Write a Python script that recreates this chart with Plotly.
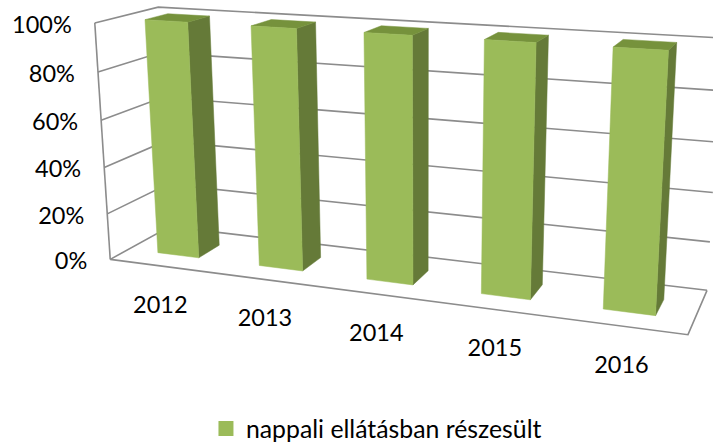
import numpy as np
import plotly.graph_objects as go

# --- data ---
years = ["2012", "2013", "2014", "2015", "2016"]
shares = [100, 100, 100, 100, 100]
value_ticks = [0, 20, 40, 60, 80, 100]
series_name = "nappali ellátásban részesült"

# --- style ---
FRONT = "#9BBB59"
SIDE = "#657A38"
TOP = "#76923C"
GRID = "#8C8C8C"
FONT = "Lato, Carlito, sans-serif"
W, H = 713, 444

# --- 3D view: (category, value %, depth) -> page position, calibrated on box corners ---
box = [
    ((0, 0, 0), (110, 259)), ((5, 0, 0), (688, 335)),
    ((0, 0, 1), (170, 227)), ((5, 0, 1), (707, 290)),
    ((0, 100, 1), (158, 7)), ((5, 100, 1), (722, 38)),
    ((0, 100, 0), (95, 23)),
]
rows = []
for (a, b, c), (u, v) in box:
    p = [a, b / 100, c, 1]
    rows.append(p + [0, 0, 0, 0] + [-u * q for q in p])
    rows.append([0, 0, 0, 0] + p + [-v * q for q in p])
M = np.linalg.svd(np.array(rows, float))[2][-1].reshape(3, 4)


def proj(cat, val, depth):
    h = M @ np.array([cat, val / 100, depth, 1.0])
    return h[0] / h[2], h[1] / h[2]


def path(points):
    xy = [proj(*p) for p in points]
    xy.append(xy[0])
    return [q[0] for q in xy] + [None], [q[1] for q in xy] + [None]


fig = go.Figure()

# walls, floor and gridlines
gx, gy = [], []
for t in value_ticks:
    pts = [proj(0, t, 0), proj(0, t, 1), proj(5, t, 1)]
    gx += [p[0] for p in pts] + [None]
    gy += [p[1] for p in pts] + [None]
for pts in ([proj(0, 0, 0), proj(0, 100, 0)],
            [proj(0, 0, 0), proj(5, 0, 0), proj(5, 0, 1)]):
    gx += [p[0] for p in pts] + [None]
    gy += [p[1] for p in pts] + [None]
fig.add_trace(go.Scatter(x=gx, y=gy, mode="lines", line=dict(color=GRID, width=1.6),
                         hoverinfo="skip", showlegend=False))

# bars
BAR_L, BAR_R, Z0, Z1 = 0.295, 0.705, 0.30, 0.67
faces = {"front": ([], []), "side": ([], []), "top": ([], [])}
for i, v in enumerate(shares):
    l, r = i + BAR_L, i + BAR_R
    for name, poly in (
        ("front", [(l, 0, Z0), (r, 0, Z0), (r, v, Z0), (l, v, Z0)]),
        ("side", [(r, 0, Z0), (r, 0, Z1), (r, v, Z1), (r, v, Z0)]),
        ("top", [(l, v, Z0), (r, v, Z0), (r, v, Z1), (l, v, Z1)]),
    ):
        a, b = path(poly)
        faces[name][0].extend(a)
        faces[name][1].extend(b)
for name, col in (("side", SIDE), ("top", TOP), ("front", FRONT)):
    fig.add_trace(go.Scatter(x=faces[name][0], y=faces[name][1], mode="lines", fill="toself",
                             fillcolor=col, line=dict(color=col, width=0.5),
                             hoverinfo="skip", showlegend=False))

# value labels
tp = [proj(0, t, 0) for t in value_ticks]
fig.add_trace(go.Scatter(x=[p[0] - 23 for p in tp], y=[p[1] + 4 for p in tp], mode="text",
                         text=[f"{t}%" for t in value_ticks], textposition="middle left",
                         textfont=dict(family=FONT, size=23.5, color="#000000"),
                         hoverinfo="skip", showlegend=False))

# category labels
cp = [proj(i + 0.5, 0, 0) for i in range(len(years))]
fig.add_trace(go.Scatter(x=[p[0] for p in cp], y=[p[1] + 41 for p in cp], mode="text",
                         text=years, textposition="middle center",
                         textfont=dict(family=FONT, size=23.5, color="#000000"),
                         hoverinfo="skip", showlegend=False))

# legend entry
fig.add_trace(go.Scatter(x=[None], y=[None], mode="markers", name=series_name,
                         marker=dict(symbol="square", size=15, color=FRONT)))

fig.update_layout(
    width=W, height=H, margin=dict(l=0, r=0, t=0, b=0),
    paper_bgcolor="white", plot_bgcolor="white",
    xaxis=dict(range=[0, W], visible=False, fixedrange=True),
    yaxis=dict(range=[H, 0], visible=False, fixedrange=True),
    legend=dict(xref="container", yref="container", x=0.528, xanchor="center",
                y=0.034, yanchor="middle", orientation="h",
                font=dict(family=FONT, size=24.8, color="#000000"), bgcolor="rgba(0,0,0,0)"),
)
fig.write_html(
    "out.html", config={"displayModeBar": False},
    post_script=(
        "document.body.style.margin='0';document.documentElement.style.overflow='hidden';"
        "var g=document.querySelector('.plotly-graph-div');"
        "Plotly.relayout(g,{'yaxis.range':[g._fullLayout._size.h,0]});"
    ),
)
